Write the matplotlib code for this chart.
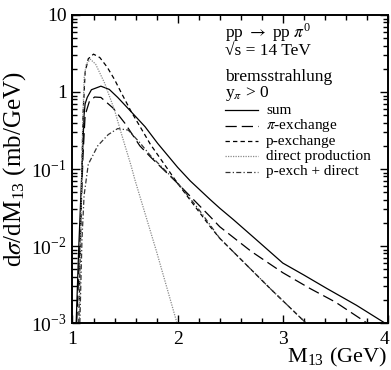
"""Bremsstrahlung pi0 production: dsigma/dM13 at sqrt(s) = 14 TeV."""

import numpy as np
import matplotlib
matplotlib.use("Agg")
import matplotlib.pyplot as plt
import matplotlib.transforms as mtransforms
from matplotlib.ticker import MultipleLocator, LogLocator, NullFormatter, FixedLocator

plt.rcParams['font.family'] = ['Liberation Serif', 'DejaVu Serif']
plt.rcParams['mathtext.fontset'] = 'stix'

# values (M13 in GeV, dsigma/dM13 in mb/GeV)
sum_m = [1.035, 1.06, 1.09, 1.11, 1.12, 1.14, 1.18, 1.27, 1.35, 1.43, 1.56, 1.69,
         1.81, 2.0, 2.12, 2.31, 2.4, 2.53, 2.75, 3.0, 3.2, 3.42, 3.7, 3.97]
sum_v = [1e-3, 0.01, 0.1, 0.5, 0.7, 0.85, 1.07, 1.19, 1.08, 0.85, 0.55, 0.354,
         0.215, 0.105, 0.07, 0.04, 0.031, 0.022, 0.012, 6.0e-3, 4.2e-3, 2.8e-3, 1.7e-3, 1.0e-3]

pi_m = [1.04, 1.07, 1.10, 1.12, 1.16, 1.21, 1.27, 1.385, 1.5, 1.64, 1.74, 2.0,
        2.31, 2.4, 2.7, 3.0, 3.26, 3.5, 3.8]
pi_v = [1e-3, 0.01, 0.15, 0.5, 0.75, 0.86, 0.85, 0.62, 0.39, 0.2, 0.144, 0.065,
        0.024, 0.0178, 8.5e-3, 4.5e-3, 2.8e-3, 1.87e-3, 1.0e-3]

p_m = [1.06, 1.08, 1.10, 1.12, 1.15, 1.2, 1.26, 1.33, 1.4, 1.46, 1.56, 1.64,
       1.74, 2.0, 2.31, 2.4, 2.88, 3.22]
p_v = [1e-3, 0.02, 0.5, 1.8, 2.7, 3.1, 2.8, 2.1, 1.45, 1.0, 0.55, 0.36,
       0.21, 0.065, 0.0178, 0.0126, 2.8e-3, 1.0e-3]

dir_m = [1.065, 1.08, 1.095, 1.11, 1.13, 1.17, 1.22, 1.306, 1.40, 1.464, 1.56,
         1.594, 1.80, 1.99]
dir_v = [1e-3, 0.02, 0.3, 1.5, 2.3, 2.66, 2.3, 1.30, 0.58, 0.29, 0.107,
         0.072, 8.4e-3, 1.04e-3]

pd_m = [1.07, 1.09, 1.11, 1.15, 1.24, 1.34, 1.43, 1.53, 1.64, 1.74, 2.0, 2.2,
        2.4, 2.88, 3.22]
pd_v = [1e-3, 0.012, 0.045, 0.115, 0.2, 0.28, 0.335, 0.32, 0.22, 0.15, 0.066, 0.03,
        0.0126, 2.8e-3, 1.0e-3]

labels = ['sum', r'$\pi$-exchange', 'p-exchange', 'direct production', 'p-exch + direct']

fig = plt.figure(figsize=(3.91, 3.70), dpi=100)
ax = fig.add_axes([0.1854, 0.127, 0.8069, 0.8325])

lw = 0.9
styles = [
    dict(color='black', lw=lw, ls='-'),
    dict(color='black', lw=lw, ls=(0, (9, 4))),
    dict(color='black', lw=lw, ls=(0, (3.5, 2.5))),
    dict(color='#8a8a8a', lw=lw, ls=(0, (1, 1))),
    dict(color='#333333', lw=lw, ls=(0, (4, 1.8, 1, 1.8))),
]
series = [(sum_m, sum_v), (pi_m, pi_v), (p_m, p_v), (dir_m, dir_v), (pd_m, pd_v)]
for (m, v), st in zip(series, styles):
    ax.plot(m, v, **st)

ax.set_yscale('log')
ax.set_xlim(1, 4)
ax.set_ylim(1e-3, 10)

ax.xaxis.set_major_locator(FixedLocator([1, 2, 3, 4]))
ax.xaxis.set_minor_locator(MultipleLocator(0.2))
ax.yaxis.set_minor_locator(LogLocator(base=10, subs=np.arange(2, 10), numticks=20))
ax.yaxis.set_minor_formatter(NullFormatter())
ax.set_yticks([1e-3, 1e-2, 1e-1, 1, 10])
ax.set_yticklabels([r'10$^{\mathregular{-3}}$', r'10$^{\mathregular{-2}}$',
                    r'10$^{\mathregular{-1}}$', '1', '10'])
ax.set_xticklabels(['1', '2', '3', '4'])

ax.tick_params(which='both', direction='in', top=True, right=True, labelsize=14, width=1.0)
ax.tick_params(which='major', length=6)
ax.tick_params(which='minor', length=3.5)
ax.tick_params(axis='x', pad=6)
ax.tick_params(axis='y', pad=4)
for s in ax.spines.values():
    s.set_linewidth(1.4)

# nudge the last x label so it stays inside the figure
last = ax.get_xticklabels()[-1]
last.set_transform(last.get_transform() +
                   mtransforms.ScaledTranslation(-3 / 100, 0, fig.dpi_scale_trans))

ax.set_xlabel(r'M$_{\mathregular{13}}$ (GeV)', fontsize=16, ha='right')
ax.xaxis.set_label_coords(0.998, -0.074)
ax.set_ylabel(r'd$\sigma$/dM$_{\mathregular{13}}$ (mb/GeV)', fontsize=18, labelpad=2)

# header text
tx = 0.484
hs = 12.5
ax.text(tx, 0.942, r'pp $\rightarrow$ pp $\pi^{\mathregular{0}}$', transform=ax.transAxes,
        fontsize=hs, va='center')
ax.text(tx, 0.884, '√s = 14 TeV', transform=ax.transAxes, fontsize=hs, va='center')
ax.text(tx, 0.799, 'bremsstrahlung', transform=ax.transAxes, fontsize=hs, va='center')
ax.text(tx, 0.745, r'y$_{\pi}$ > 0', transform=ax.transAxes, fontsize=hs, va='center')

# legend
y0 = 0.69
dy = 0.0497
for i, (lab, st) in enumerate(zip(labels, styles)):
    yy = y0 - i * dy
    ax.plot([tx, tx + 0.105], [yy, yy], transform=ax.transAxes, **st)
    ax.text(tx + 0.13, yy, lab, transform=ax.transAxes, fontsize=11, va='center')

fig.savefig('out.png', dpi=100)
